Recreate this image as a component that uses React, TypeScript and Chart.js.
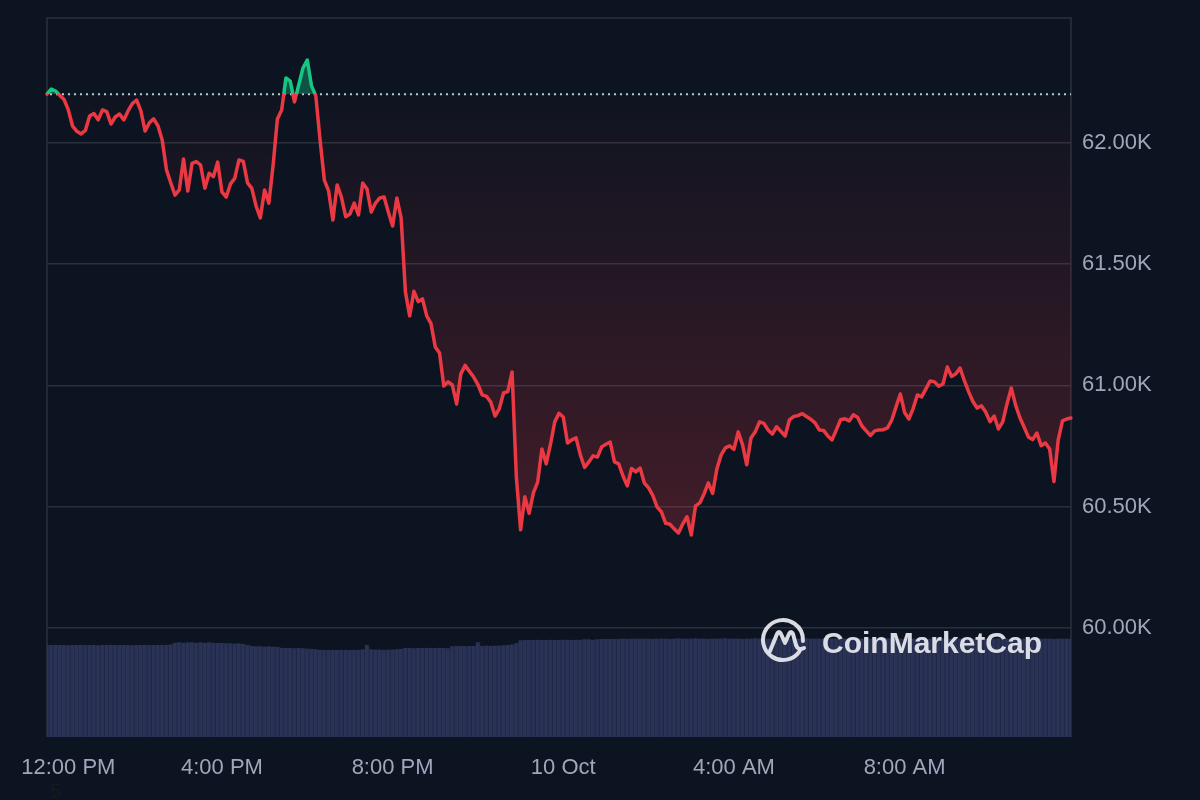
import { useEffect, useRef } from "react";
import { Chart, registerables } from "chart.js";

Chart.register(...registerables);

// ---- data (BTC price, 24h, 6‑minute samples from 11:54 on 9 Oct) ----
const START_MINUTE = 11 * 60 + 54;
const STEP_MINUTES = 6;

const PRICE = [
  62200, 62221, 62213, 62195, 62178, 62135, 62068, 62047, 62036, 62051, 62110, 62120, 62094, 62135, 62128,
  62077, 62106, 62118, 62094, 62131, 62161, 62176, 62131, 62048, 62082, 62098, 62070, 62011, 61888, 61835,
  61784, 61805, 61933, 61801, 61915, 61922, 61908, 61812, 61874, 61860, 61920, 61797, 61776, 61830, 61853,
  61929, 61923, 61834, 61812, 61739, 61690, 61805, 61751, 61908, 62098, 62135, 62267, 62254, 62168, 62238,
  62308, 62341, 62234, 62193, 62011, 61846, 61801, 61681, 61826, 61776, 61695, 61706, 61751, 61702, 61834,
  61809, 61714, 61751, 61772, 61776, 61714, 61657, 61772, 61690, 61385, 61286, 61387, 61345, 61356, 61286,
  61254, 61158, 61133, 60997, 61014, 61001, 60923, 61047, 61082, 61057, 61034, 61003, 60960, 60954, 60931,
  60873, 60903, 60968, 60974, 61055, 60622, 60404, 60540, 60472, 60556, 60601, 60737, 60676, 60756, 60849,
  60884, 60869, 60762, 60775, 60783, 60713, 60661, 60684, 60709, 60704, 60746, 60757, 60766, 60684, 60676,
  60626, 60585, 60657, 60643, 60659, 60597, 60577, 60545, 60498, 60478, 60431, 60427, 60408, 60391, 60428,
  60458, 60383, 60503, 60515, 60552, 60598, 60554, 60655, 60713, 60742, 60750, 60736, 60808, 60756, 60672,
  60783, 60808, 60849, 60843, 60816, 60799, 60829, 60810, 60791, 60857, 60871, 60875, 60883, 60871, 60860,
  60845, 60816, 60814, 60791, 60775, 60816, 60858, 60862, 60853, 60878, 60867, 60832, 60812, 60793, 60812,
  60816, 60817, 60824, 60857, 60911, 60964, 60888, 60861, 60904, 60960, 60952, 60985, 61018, 61014, 60996,
  61005, 61075, 61036, 61047, 61071, 61019, 60974, 60933, 60906, 60915, 60890, 60850, 60873, 60820, 60849,
  60923, 60989, 60919, 60867, 60828, 60787, 60776, 60803, 60751, 60762, 60737, 60603, 60775, 60853, 60861, 60865,
];

// volume (billion USD, rolling 24h)
const VOLUME = [
  31.0, 31.0, 31.1, 31.0, 31.0, 30.9, 31.0, 31.0, 31.1, 31.0, 31.0, 31.0, 30.9, 31.0, 31.0,
  31.1, 31.0, 31.0, 31.0, 31.0, 30.9, 31.0, 31.0, 31.1, 31.0, 31.0, 31.0, 31.0, 31.1, 31.2,
  31.8, 31.9, 31.8, 31.9, 31.9, 31.8, 31.9, 31.8, 31.9, 31.8, 31.7, 31.7,
  31.6, 31.6, 31.5, 31.6, 31.3, 31.0,
  30.7, 30.6, 30.6, 30.5, 30.6, 30.5, 30.3,
  30.1, 30.0, 30.0, 29.9, 30.0, 29.9, 29.8, 29.7, 29.6,
  29.4, 29.3, 29.4, 29.4, 29.3, 29.4, 29.4, 29.3, 29.4, 29.4, 29.6, 31.0, 29.6, 29.5, 29.5, 29.4, 29.5, 29.5, 29.6, 29.7,
  30.0, 30.0, 29.9, 30.0, 30.0, 30.1, 30.0, 30.0, 30.1, 30.0, 29.9,
  30.6, 30.7, 30.7, 30.6, 30.7, 30.7, 31.9, 30.7, 30.8, 30.7, 30.8, 30.8, 30.9, 31.0, 31.2, 31.6,
  32.6, 32.7, 32.7, 32.7, 32.8, 32.7, 32.7, 32.8, 32.7, 32.7, 32.8, 32.8, 32.7, 32.8, 32.8, 32.9, 32.9, 32.8, 32.9,
  33.0, 33.1, 33.1, 33.0, 33.1, 33.2, 33.1, 33.2, 33.2, 33.1,
  33.2, 33.2, 33.1, 33.2, 33.2, 33.2, 33.1, 33.2, 33.3, 33.2,
  33.2, 33.2, 33.3, 33.2, 33.2, 33.1, 33.2, 33.2, 33.2, 33.3,
  33.2, 33.2, 33.2, 33.1, 33.2, 33.2, 33.3, 33.2, 33.2, 33.2,
  33.2, 33.3, 33.2, 33.2, 33.1, 33.2, 33.2, 33.2, 33.3, 33.2,
  33.2, 33.2, 33.2, 33.1, 33.2, 33.3, 33.2, 33.2, 33.2, 33.2,
  33.3, 33.2, 33.2, 33.2, 33.1, 33.2, 33.2, 33.3, 33.2, 33.2,
  33.2, 33.2, 33.3, 33.2, 33.2, 33.2, 33.1, 33.2, 33.2, 33.2,
  33.3, 33.2, 33.2, 33.2, 33.2, 33.1, 33.2, 33.2, 33.3, 33.2,
  33.2, 33.2, 33.2, 33.3, 33.2, 33.2, 33.1, 33.2, 33.2, 33.2,
  33.2, 33.3, 33.2, 33.2, 33.2, 33.2, 33.1, 33.2, 33.2, 33.2, 33.2,
];

const Y_TICKS = [60000, 60500, 61000, 61500, 62000];
const Y_TICK_LABELS = ["60.00K", "60.50K", "61.00K", "61.50K", "62.00K"];
// sample times where the x labels sit (first label is nudged right, as in the source)
const X_TICK_TIMES = ["12:24", "16:00", "20:00", "00:00", "04:00", "08:00"];
const X_TICK_LABELS = ["12:00 PM", "4:00 PM", "8:00 PM", "10 Oct", "4:00 AM", "8:00 AM"];

const Y_MIN = 59550;
const Y_MAX = 62514;
const VOL_MAX = 242.3;

const pad2 = (n: number) => String(n).padStart(2, "0");
const TIMES = PRICE.map((_, i) => {
  const m = (START_MINUTE + i * STEP_MINUTES) % 1440;
  return `${pad2(Math.floor(m / 60))}:${pad2(m % 60)}`;
});

// ---- style ----
const BG = "#0d1421";
const RED = "#ea3943";
const GREEN = "#16c784";
const GRID = "#2a303c";
const TICK_COLOR = "#a1a7bb";
const FONT_FAMILY = "'Liberation Sans', Arial, Helvetica, sans-serif";

const framePlugin = {
  id: "frame",
  beforeDatasetsDraw(chart: any) {
    const { ctx, chartArea: ca, scales } = chart;
    ctx.save();
    ctx.strokeStyle = GRID;
    ctx.lineWidth = 1.5;
    ctx.beginPath();
    ctx.moveTo(ca.left, ca.bottom);
    ctx.lineTo(ca.left, ca.top);
    ctx.lineTo(ca.right, ca.top);
    ctx.lineTo(ca.right, ca.bottom);
    ctx.stroke();
    const yb = scales.y.getPixelForValue(PRICE[0]);
    ctx.setLineDash([2, 4]);
    ctx.strokeStyle = "#c3c7d1";
    ctx.lineWidth = 2;
    ctx.beginPath();
    ctx.moveTo(ca.left + 3, yb);
    ctx.lineTo(ca.right, yb);
    ctx.stroke();
    ctx.restore();
  },
  afterDatasetsDraw(chart: any) {
    const { ctx, chartArea: ca } = chart;
    const wm = "rgba(232,235,241,0.93)";
    const cx = ca.right - 288;
    const cy = ca.bottom - 97;
    ctx.save();
    ctx.strokeStyle = wm;
    ctx.fillStyle = wm;
    ctx.lineWidth = 4;
    ctx.lineCap = "round";
    ctx.lineJoin = "round";
    ctx.beginPath();
    ctx.arc(cx, cy, 20, 0.6, Math.PI * 2 + 0.05);
    ctx.stroke();
    ctx.beginPath();
    ctx.moveTo(cx - 13, cy + 11);
    ctx.lineTo(cx - 6, cy - 6);
    ctx.quadraticCurveTo(cx - 4, cy - 10, cx - 2, cy - 6);
    ctx.lineTo(cx + 2, cy + 3);
    ctx.lineTo(cx + 6, cy - 6);
    ctx.quadraticCurveTo(cx + 8, cy - 10, cx + 10, cy - 6);
    ctx.lineTo(cx + 13, cy + 5);
    ctx.quadraticCurveTo(cx + 15, cy + 11, cx + 21, cy + 8);
    ctx.stroke();
    ctx.font = `bold 30px ${FONT_FAMILY}`;
    ctx.textAlign = "left";
    ctx.textBaseline = "alphabetic";
    ctx.fillText("CoinMarketCap", ca.right - 249, ca.bottom - 84);
    ctx.restore();
  },
};

export default function App() {
  const ref = useRef<HTMLCanvasElement>(null);

  useEffect(() => {
    document.body.style.margin = "0";
    document.body.style.background = BG;
    const canvas = ref.current;
    if (!canvas) return;
    const baseline = PRICE[0];
    const tickFont = { family: FONT_FAMILY, size: 22 };

    const chart = new Chart(canvas, {
      type: "line",
      data: {
        labels: TIMES,
        datasets: [
          {
            type: "line",
            data: PRICE,
            yAxisID: "y",
            order: 0,
            borderColor: RED,
            borderWidth: 3.5,
            pointRadius: 0,
            pointHoverRadius: 0,
            tension: 0,
            borderJoinStyle: "round",
            borderCapStyle: "round",
            fill: { target: { value: baseline }, above: "rgba(22,199,132,0.35)", below: "rgba(234,57,67,0.1)" },
          } as any,
          {
            type: "bar",
            data: VOLUME,
            yAxisID: "vol",
            order: 1,
            backgroundColor: "#2a3256",
            borderColor: "#222947",
            borderWidth: { top: 0, right: 1, bottom: 0, left: 0 },
            borderSkipped: false,
            barPercentage: 1,
            categoryPercentage: 1,
          } as any,
        ],
      },
      options: {
        responsive: false,
        animation: false,
        events: [],
        layout: { padding: { left: 47, top: 18, right: 0, bottom: 0 } },
        plugins: { legend: { display: false }, tooltip: { enabled: false } },
        scales: {
          x: {
            type: "category",
            offset: false,
            grid: { display: false, drawTicks: false },
            border: { display: false },
            afterBuildTicks: (s: any) => {
              s.ticks = X_TICK_TIMES.map((t) => ({ value: TIMES.indexOf(t) }));
            },
            ticks: {
              autoSkip: false,
              maxRotation: 0,
              minRotation: 0,
              padding: 18,
              color: TICK_COLOR,
              font: tickFont,
              callback: (v: any) => X_TICK_LABELS[X_TICK_TIMES.indexOf(TIMES[v as number])],
            },
            afterFit: (s: any) => {
              s.height = 63;
              s.paddingLeft = 0;
              s.paddingRight = 0;
            },
          },
          y: {
            position: "right",
            min: Y_MIN,
            max: Y_MAX,
            afterBuildTicks: (s: any) => {
              s.ticks = Y_TICKS.map((v) => ({ value: v }));
            },
            grid: { color: GRID, lineWidth: 1.5, drawTicks: false },
            border: { display: false },
            ticks: {
              padding: 11,
              color: TICK_COLOR,
              font: tickFont,
              callback: (v: any) => Y_TICK_LABELS[Y_TICKS.indexOf(v as number)],
            },
            afterFit: (s: any) => {
              s.width = 129;
              s.paddingTop = 0;
              s.paddingBottom = 0;
            },
          },
          vol: { display: false, min: 0, max: VOL_MAX },
        },
      } as any,
      plugins: [framePlugin],
    });

    // second pass: gradients that depend on the laid-out chart area
    const { ctx, chartArea: ca, scales } = chart as any;
    const yb = scales.y.getPixelForValue(baseline);
    const t = Math.min(1, Math.max(0, (yb - ca.top) / (ca.bottom - ca.top)));
    const stroke = ctx.createLinearGradient(0, ca.top, 0, ca.bottom);
    stroke.addColorStop(0, GREEN);
    stroke.addColorStop(t, GREEN);
    stroke.addColorStop(t, RED);
    stroke.addColorStop(1, RED);
    const yLow = scales.y.getPixelForValue(Math.min(...PRICE));
    const below = ctx.createLinearGradient(0, yb, 0, yLow);
    below.addColorStop(0, "rgba(234,57,67,0.01)");
    below.addColorStop(1, "rgba(234,57,67,0.24)");
    const ds: any = chart.data.datasets[0];
    ds.borderColor = stroke;
    ds.fill = { target: { value: baseline }, above: "rgba(22,199,132,0.35)", below };
    chart.update("none");

    return () => chart.destroy();
  }, []);

  return (
    <div style={{ position: "relative", width: 1200, height: 800, background: BG, overflow: "hidden" }}>
      <canvas ref={ref} width={1200} height={800} style={{ display: "block" }} />
      <span
        style={{
          position: "absolute",
          left: 50,
          top: 780,
          fontFamily: FONT_FAMILY,
          fontSize: 21,
          lineHeight: 1,
          color: "#18191c",
        }}
      >
        5
      </span>
    </div>
  );
}
